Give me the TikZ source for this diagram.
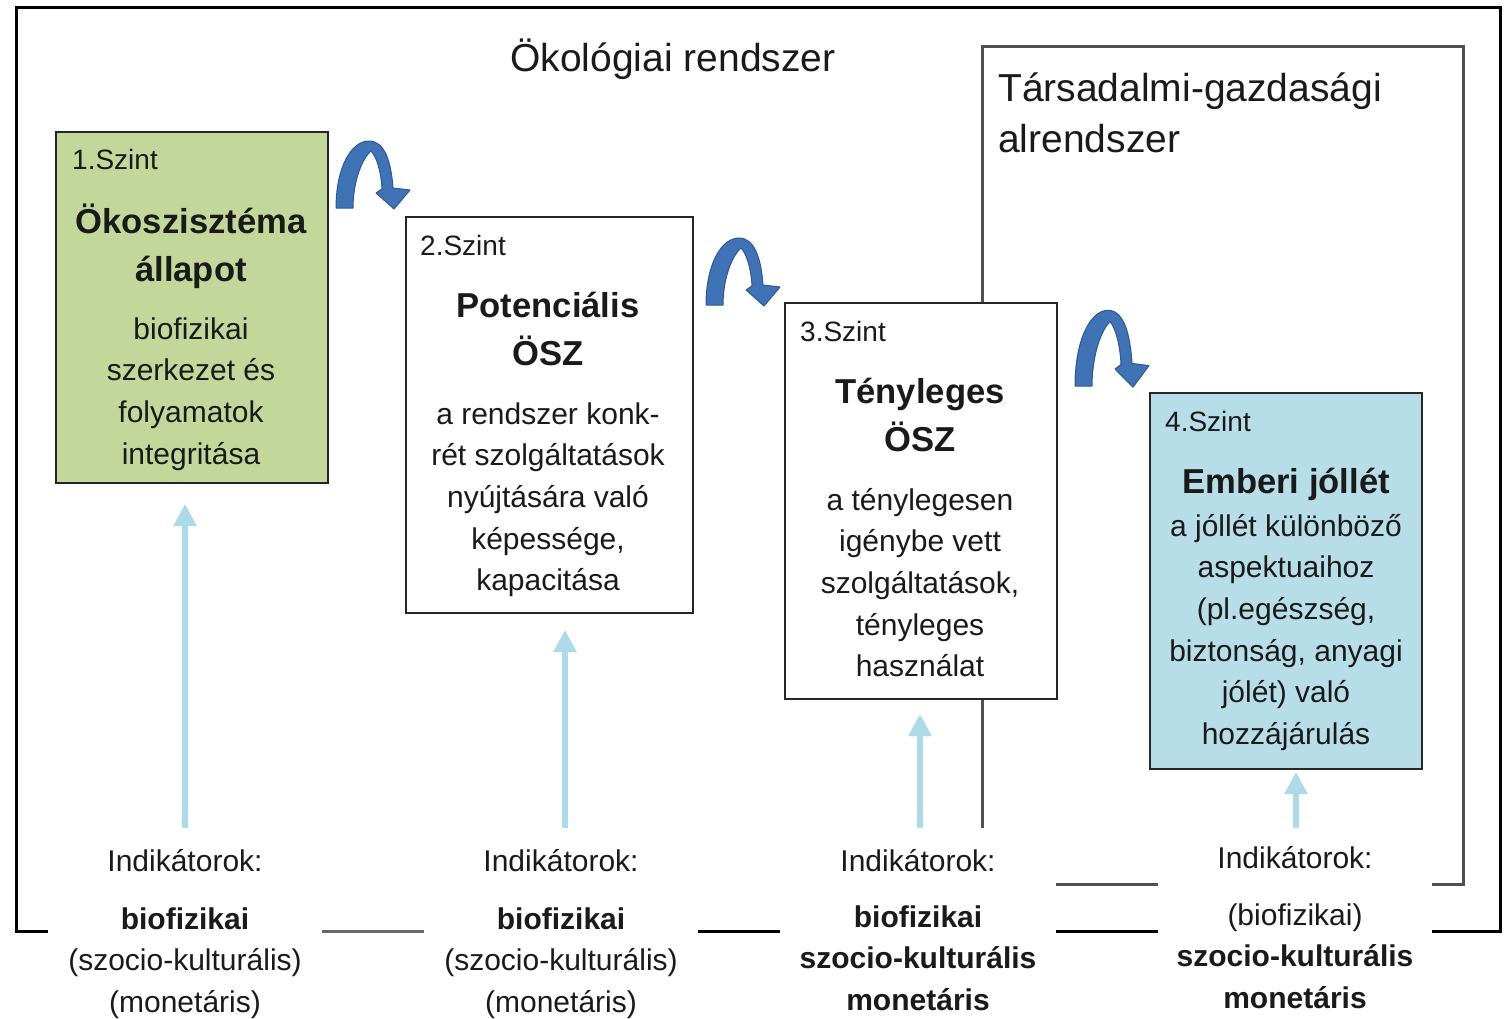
\documentclass[tikz,border=0pt]{standalone}
\usepackage{fontspec}
\setmainfont{Liberation Sans}
\usetikzlibrary{arrows.meta}
\definecolor{boxgreen}{HTML}{C4D79B}
\definecolor{boxblue}{HTML}{B7DEE8}
\definecolor{uparrow}{HTML}{ADDAE8}
\definecolor{bendblue}{HTML}{3F73B5}
\definecolor{benddark}{HTML}{2C5A92}
\definecolor{framegray}{HTML}{505050}
\definecolor{txtcol}{HTML}{1A1A1A}
\begin{document}
\begin{tikzpicture}[x=1pt,y=-1pt,
  outerline/.style={line width=3pt,draw=black},
  innerline/.style={line width=3pt,draw=framegray},
  lvl/.style={draw=black!85,line width=2pt,anchor=north west,inner sep=0pt},
  szint/.style={anchor=base west,inner sep=0pt,text=txtcol,font=\fontsize{28}{34}\selectfont},
  ttl/.style={anchor=north,inner sep=0pt,align=center,text=txtcol,font=\fontsize{34.6}{48}\selectfont\bfseries},
  bdy/.style={anchor=north,inner sep=0pt,align=center,text=txtcol,font=\fontsize{30}{41.7}\selectfont},
  indic/.style={anchor=base,inner sep=0pt,text=txtcol,font=\fontsize{30}{41.5}\selectfont},
  indval/.style={anchor=north,inner sep=0pt,align=center,text=txtcol,font=\fontsize{30}{41.5}\selectfont},
  uparr/.style={draw=uparrow,line width=6pt,-{Triangle[width=22pt,length=22pt]}},
  bendarrow/.pic={
    \filldraw[fill=bendblue,draw=benddark,line width=1pt,line join=round]
      (0,0) .. controls (0,-40) and (15,-67) .. (33,-67)
      .. controls (48,-67) and (55,-48) .. (57,-20)
      -- (74,-18) -- (58,1) -- (40,-15) -- (46,-19)
      .. controls (45,-38) and (40,-52) .. (35,-57)
      .. controls (25,-48) and (17,-25) .. (17,0) -- cycle;
  }
]
\useasboundingbox (0,0) rectangle (1506,1019);
\fill[white] (0,0) rectangle (1506,1019);

% outer frame (ecological system)
\draw[outerline] (48,931) -- (16,931) -- (16,8) -- (1500,8) -- (1500,931) -- (1432,931);
\draw[outerline,draw=black!60] (322,931) -- (424,931);
\draw[outerline] (698,931) -- (780,931);
\draw[outerline] (1056,931) -- (1158,931);

% inner frame (socio-economic subsystem)
\draw[innerline] (982,828) -- (982,47) -- (1463,47) -- (1463,884) -- (1432,884);
\draw[innerline] (1056,884) -- (1158,884);

\node[anchor=base,inner sep=0pt,text=txtcol,font=\fontsize{39}{51}\selectfont] (eco) at (673,72) {Ökológiai rendszer};
\node[anchor=north west,inner sep=0pt,align=left,text=txtcol,font=\fontsize{39}{51}\selectfont] (soc) at (998,65.3) {\strut Társadalmi-gazdasági\\alrendszer};

% boxes
\node[lvl,fill=boxgreen,minimum width=272pt,minimum height=351pt] (b1) at (55,131) {};
\node[lvl,fill=white,minimum width=287pt,minimum height=396pt] (b2) at (405,216) {};
\node[lvl,fill=white,minimum width=272pt,minimum height=396pt] (b3) at (784,302) {};
\node[lvl,fill=boxblue,minimum width=272pt,minimum height=376pt] (b4) at (1149,392) {};

% box texts
\node[szint] (s1) at (72,170) {1.Szint};
\node[ttl] (t1) at (191,199.4) {\strut Ökoszisztéma\\állapot};
\node[bdy] (d1) at (191,309.8) {\strut biofizikai\\szerkezet és\\folyamatok\\integritása};

\node[szint] (s2) at (420,255) {2.Szint};
\node[ttl] (t2) at (548,283.4) {\strut Potenciális\\ÖSZ};
\node[bdy] (d2) at (548,394.8) {\strut a rendszer konk-\\rét szolgáltatások\\nyújtására való\\képessége,\\kapacitása};

\node[szint] (s3) at (800,341) {3.Szint};
\node[ttl] (t3) at (920,369.4) {\strut Tényleges\\ÖSZ};
\node[bdy] (d3) at (920,480.8) {\strut a ténylegesen\\igénybe vett\\szolgáltatások,\\tényleges\\használat};

\node[szint] (s4) at (1165,431) {4.Szint};
\node[ttl] (t4) at (1286,459.4) {\strut Emberi jóllét};
\node[bdy] (d4) at (1286,506.8) {\strut a jóllét különböző\\aspektuaihoz\\(pl.egészség,\\biztonság, anyagi\\jólét) való\\hozzájárulás};

% bend arrows between levels
\pic at (336,208) {bendarrow};
\pic at (706,305) {bendarrow};
\pic[yscale=1.13] at (1075,386) {bendarrow};

% indicators
\node[indic] (i1) at (185,871) {Indikátorok:};
\node[indval] (v1) at (185,899.8) {\strut\textbf{biofizikai}\\(szocio-kulturális)\\(monetáris)};
\node[indic] (i2) at (561,871) {Indikátorok:};
\node[indval] (v2) at (561,899.8) {\strut\textbf{biofizikai}\\(szocio-kulturális)\\(monetáris)};
\node[indic] (i3) at (918,871) {Indikátorok:};
\node[indval,font=\fontsize{30}{41.5}\selectfont\bfseries] (v3) at (918,897.8) {\strut biofizikai\\szocio-kulturális\\monetáris};
\node[indic] (i4) at (1295,868) {Indikátorok:};
\node[indval] (v4) at (1295,895.8) {\strut(biofizikai)\\\textbf{szocio-kulturális}\\\textbf{monetáris}};

% upward arrows
\coordinate (u1) at (185,828);
\coordinate (u2) at (565,828);
\coordinate (u3) at (920,828);
\coordinate (u4) at (1296,828);
\draw[uparr,shorten >=20pt] (u1) -- (u1 |- b1.south);
\draw[uparr,shorten >=16pt] (u2) -- (u2 |- b2.south);
\draw[uparr,shorten >=14pt] (u3) -- (u3 |- b3.south);
\draw[uparr,shorten >=2pt] (u4) -- (u4 |- b4.south);
\end{tikzpicture}
\end{document}
